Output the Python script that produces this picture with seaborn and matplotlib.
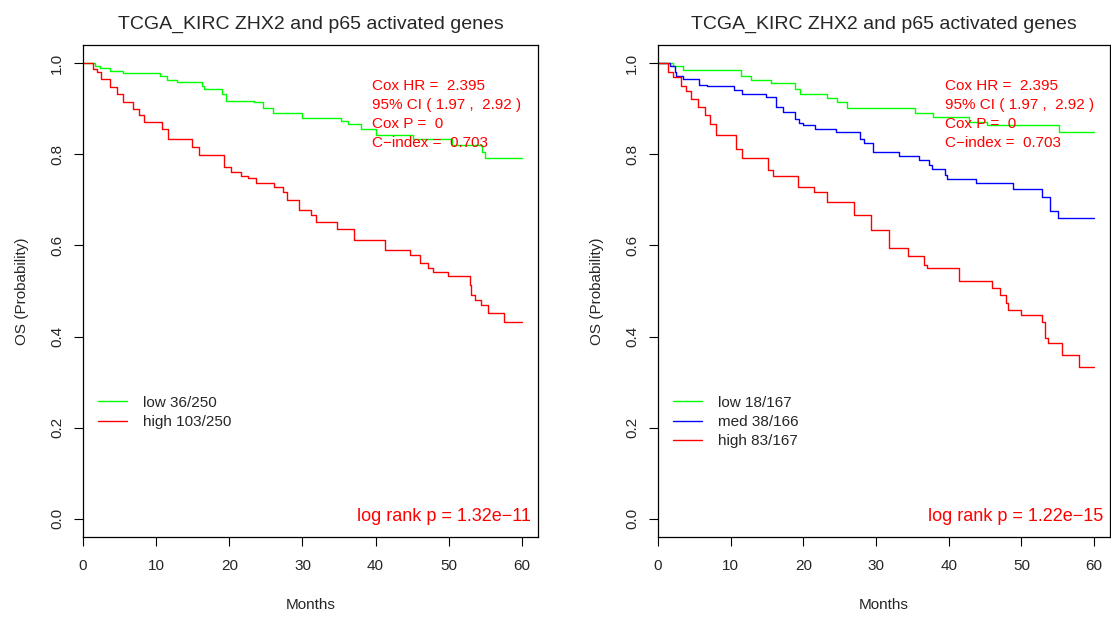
import numpy as np
import pandas as pd
import matplotlib
matplotlib.use("Agg")
import matplotlib.pyplot as plt
import seaborn as sns
from matplotlib.lines import Line2D

# ---------------- data ----------------
title_text = "TCGA_KIRC ZHX2 and p65 activated genes"

left_low_t = [0, 1.6, 2.3, 3.7, 5.5, 10.5, 11.5, 12.8, 16.3, 16.5, 19.0, 19.5, 23.4, 24.6, 26.0,
              29.9, 35.3, 36.2, 38.0, 40.1, 45.1, 50.5, 54.6, 55.0, 60]
left_low_s = [1.0, 0.994, 0.989, 0.982, 0.978, 0.973, 0.964, 0.958, 0.951, 0.944, 0.933, 0.918, 0.915,
              0.902, 0.891, 0.880, 0.873, 0.867, 0.855, 0.842, 0.833, 0.820, 0.805, 0.791, 0.791]

left_high_t = [0, 1.4, 1.9, 2.5, 3.7, 4.7, 5.5, 6.9, 7.6, 8.3, 10.8, 11.6, 14.9, 15.8, 19.3, 20.2,
               21.6, 22.5, 23.6, 26.1, 27.4, 27.9, 29.5, 31.1, 31.8, 34.7, 37.0, 41.3, 44.7, 46.1,
               47.2, 47.9, 49.9, 52.9, 53.1, 53.6, 54.4, 55.3, 57.6, 60]
left_high_s = [1.0, 0.988, 0.980, 0.966, 0.947, 0.933, 0.915, 0.900, 0.886, 0.871, 0.856, 0.833,
               0.816, 0.798, 0.772, 0.761, 0.753, 0.748, 0.736, 0.729, 0.718, 0.700, 0.678, 0.667,
               0.652, 0.637, 0.612, 0.590, 0.579, 0.561, 0.550, 0.541, 0.534, 0.513, 0.492, 0.480,
               0.470, 0.451, 0.433, 0.433]

right_low_t = [0, 2.1, 3.5, 11.4, 12.8, 15.5, 18.8, 19.6, 23.3, 24.7, 26.0, 35.3, 37.9, 42.8, 45.3, 55.2, 60]
right_low_s = [1.0, 0.994, 0.986, 0.973, 0.964, 0.956, 0.944, 0.933, 0.924, 0.915, 0.902, 0.891,
               0.883, 0.871, 0.864, 0.849, 0.849]

right_med_t = [0, 1.6, 2.3, 2.5, 3.5, 5.7, 6.8, 10.5, 11.5, 14.9, 16.3, 17.2, 18.9, 19.4, 19.9, 21.6,
               24.5, 27.8, 28.4, 29.6, 33.2, 35.9, 37.3, 37.7, 39.5, 39.8, 43.8, 48.8, 52.9, 54.0, 55.1, 60]
right_med_s = [1.0, 0.994, 0.980, 0.972, 0.965, 0.953, 0.949, 0.942, 0.933, 0.926, 0.904, 0.894,
               0.878, 0.869, 0.865, 0.856, 0.848, 0.833, 0.824, 0.805, 0.797, 0.787, 0.776, 0.767,
               0.754, 0.745, 0.736, 0.723, 0.707, 0.675, 0.661, 0.661]

right_high_t = [0, 1.4, 2.1, 3.2, 3.9, 4.6, 5.5, 6.4, 7.1, 8.0, 10.8, 11.5, 15.1, 15.8, 19.2, 21.5,
                23.3, 27.0, 29.3, 31.8, 34.4, 36.6, 37.0, 41.4, 46.0, 47.0, 47.9, 48.1, 49.9, 52.8,
                53.3, 53.6, 55.6, 57.9, 60]
right_high_s = [1.0, 0.980, 0.969, 0.951, 0.940, 0.922, 0.904, 0.886, 0.867, 0.842, 0.812, 0.791,
                0.765, 0.753, 0.729, 0.718, 0.696, 0.667, 0.634, 0.594, 0.576, 0.558, 0.550, 0.521,
                0.506, 0.491, 0.473, 0.459, 0.448, 0.433, 0.397, 0.386, 0.359, 0.333, 0.333]

left_labels = ["low 36/250", "high 103/250"]
right_labels = ["low 18/167", "med 38/166", "high 83/167"]
cox_lines = ["Cox HR =  2.395", "95% CI ( 1.97 ,  2.92 )", "Cox P =  0", "C\u2212index =  0.703"]
left_logrank = "log rank p = 1.32e\u221211"
right_logrank = "log rank p = 1.22e\u221215"
x_ticks = [0, 10, 20, 30, 40, 50, 60]
y_ticks = [0.0, 0.2, 0.4, 0.6, 0.8, 1.0]

# ---------------- style ----------------
sns.set_style("white")
plt.rcParams["font.family"] = ["Liberation Sans", "DejaVu Sans"]
plt.rcParams["axes.unicode_minus"] = True

colors = {"low": "#00FF00", "med": "#0000FF", "high": "#FF0000"}

fig = plt.figure(figsize=(11.11, 6.18), dpi=100)
W, H = 1111, 618
ax_l = fig.add_axes([83 / W, 1 - 537 / H, 455 / W, 492 / H])
ax_r = fig.add_axes([658 / W, 1 - 537 / H, 452 / W, 492 / H])


def make_df(groups):
    frames = []
    for name, t, s in groups:
        frames.append(pd.DataFrame({"Months": t, "surv": s, "group": name}))
    return pd.concat(frames, ignore_index=True)


panels = [
    (ax_l, make_df([("low", left_low_t, left_low_s), ("high", left_high_t, left_high_s)]),
     ["low", "high"], left_labels, left_logrank),
    (ax_r, make_df([("low", right_low_t, right_low_s), ("med", right_med_t, right_med_s),
                    ("high", right_high_t, right_high_s)]),
     ["low", "med", "high"], right_labels, right_logrank),
]

for ax, df, order, labels, logrank in panels:
    sns.lineplot(data=df, x="Months", y="surv", hue="group", hue_order=order,
                 palette=colors, estimator=None, sort=False, drawstyle="steps-post",
                 linewidth=1.0, legend=False, ax=ax)
    ax.set_xlim(0, 62.2)
    ax.set_ylim(-0.04, 1.04)
    ax.set_xticks(x_ticks)
    ax.set_xticklabels([str(v) for v in x_ticks])
    ax.set_yticks(y_ticks)
    ax.set_yticklabels([f"{v:.1f}" for v in y_ticks], rotation=90, va="center")
    ax.tick_params(axis="both", direction="out", length=6.5, width=0.8, color="black",
                   labelsize=11, bottom=True, left=True)
    ax.tick_params(axis="x", pad=9.5)
    ax.tick_params(axis="y", pad=7)
    for sp in ax.spines.values():
        sp.set_visible(True)
        sp.set_color("black")
        sp.set_linewidth(0.9)
    ax.set_xlabel("Months", fontsize=11, labelpad=18)
    ax.set_ylabel("OS (Probability)", fontsize=11, labelpad=15.5)
    ax.set_title(title_text, fontsize=14, pad=11.5)
    ax.grid(False)

    handles = [Line2D([0], [0], color=colors[g], lw=1.0) for g in order]
    ax.legend(handles, labels, loc="upper left", bbox_to_anchor=(0.007, 0.312),
              frameon=False, fontsize=11, handlelength=1.9, handletextpad=1.0,
              labelspacing=0.35, borderaxespad=0.4)

    for i, line in enumerate(cox_lines):
        ax.text(0.636, 0.917 - i * 0.0386, line, transform=ax.transAxes, color="#FF0000",
                fontsize=11, ha="left", va="center")
    ax.text(0.985, 0.042, logrank, transform=ax.transAxes, color="#FF0000",
            fontsize=13, ha="right", va="center")

fig.savefig("out.png", dpi=100)
